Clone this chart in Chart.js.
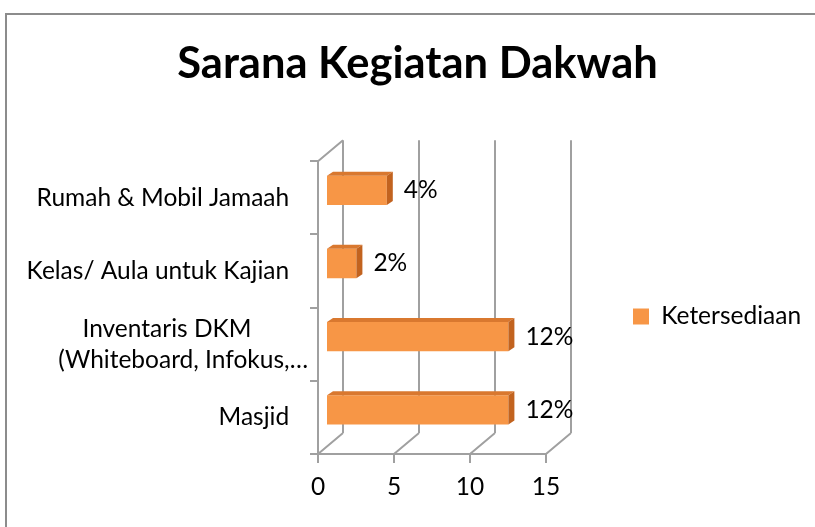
<!DOCTYPE html>
<html><head><meta charset="utf-8">
<script src="https://cdn.jsdelivr.net/npm/chart.js@4.4.1/dist/chart.umd.min.js"></script>
<style>html,body{margin:0;padding:0;background:#fff;}canvas{display:block;}</style>
</head><body>
<canvas id="c" width="815" height="527"></canvas>
<script>
const titleText = 'Sarana Kegiatan Dakwah';
const seriesName = 'Ketersediaan';
const categories = ['Masjid', ['Inventaris DKM', '(Whiteboard, Infokus,…'], 'Kelas/ Aula untuk Kajian', 'Rumah & Mobil Jamaah'];
const values = [12, 12, 2, 4];
const valueLabels = ['12%', '12%', '2%', '4%'];
const xTicks = [0, 5, 10, 15];

const FONT = 'Lato';
const GRID = '#a0a0a0';
const DX = 25, DY = -21;     // wall depth
const BX = 8, BY = -7.5;     // bar offset into depth
const BDX = 6, BDY = -4;     // bar thickness in depth
const LABEL_SIZE = 24.5;

const mctx = document.createElement('canvas').getContext('2d');
function textW(t, size) { mctx.font = size + 'px ' + FONT; return mctx.measureText(t).width; }
function padRight(t, px, size) {
  const sw = textW(' ', size) || 5;
  return t + ' '.repeat(Math.max(0, Math.round(px / sw)));
}

const threeD = {
  id: 'threeD',
  beforeLayout(chart) {
    const lg = chart.legend;
    if (lg && !lg._patched) {
      const f = lg.fit;
      lg.fit = function () { f.call(this); this.width = 269; };
      lg._patched = true;
    }
  },
  afterLayout(chart) {
    const lg = chart.legend;
    lg.left += 77; lg.right += 77; lg.top += 53; lg.bottom += 53;
  },
  beforeDraw(chart) {
    const c = chart.ctx;
    c.save();
    c.strokeStyle = '#8c8c8c'; c.lineWidth = 2;
    c.beginPath(); c.moveTo(6, 527); c.lineTo(6, 14); c.lineTo(815, 14); c.stroke();
    c.restore();
  },
  beforeDatasetsDraw(chart) {
    const c = chart.ctx, a = chart.chartArea, xs = chart.scales.x;
    c.save();
    c.strokeStyle = GRID; c.lineWidth = 2;
    c.beginPath();
    xs.ticks.forEach(t => {
      const px = Math.round(xs.getPixelForValue(t.value));
      c.moveTo(px + DX, a.top + DY); c.lineTo(px + DX, a.bottom + DY);
      c.moveTo(px, a.bottom); c.lineTo(px + DX, a.bottom + DY);
    });
    c.moveTo(a.left, a.top); c.lineTo(a.left + DX, a.top + DY);
    c.stroke();
    c.restore();
    c.save();
    c.translate(BX, BY);
  },
  afterDatasetsDraw(chart) {
    const c = chart.ctx;
    c.restore();
    const meta = chart.getDatasetMeta(0);
    meta.data.forEach((bar, i) => {
      const p = bar.getProps(['x', 'y', 'base', 'height'], true);
      const x0 = p.base + BX, x1 = p.x + BX;
      const yT = p.y - p.height / 2 + BY, yB = p.y + p.height / 2 + BY;
      // top face
      c.fillStyle = '#d9782f';
      c.beginPath();
      c.moveTo(x0, yT); c.lineTo(x1, yT); c.lineTo(x1 + BDX, yT + BDY); c.lineTo(x0 + BDX, yT + BDY); c.closePath(); c.fill();
      // side face
      c.fillStyle = '#c2631f';
      c.beginPath();
      c.moveTo(x1, yT); c.lineTo(x1 + BDX, yT + BDY); c.lineTo(x1 + BDX, yB + BDY); c.lineTo(x1, yB); c.closePath(); c.fill();
      // value label
      c.fillStyle = '#000';
      c.font = LABEL_SIZE + 'px ' + FONT;
      c.textAlign = 'left'; c.textBaseline = 'middle';
      c.fillText(valueLabels[i], x1 + 17, p.y + BY);
    });
  }
};

new Chart(document.getElementById('c'), {
  type: 'bar',
  data: {
    labels: categories,
    datasets: [{
      label: seriesName,
      data: values,
      backgroundColor: '#f79646',
      borderWidth: 0,
      categoryPercentage: 0.8,
      barPercentage: 0.5
    }]
  },
  options: {
    indexAxis: 'y',
    responsive: false,
    animation: false,
    devicePixelRatio: 1,
    layout: { padding: { left: 20, right: 0, top: 0, bottom: 0 } },
    scales: {
      x: {
        min: 0, max: 15,
        afterBuildTicks: s => { s.ticks = xTicks.map(v => ({ value: v })); },
        ticks: { color: '#000', font: { family: FONT, size: LABEL_SIZE }, padding: 9 },
        grid: { drawOnChartArea: false, drawTicks: true, tickLength: 9, color: GRID, lineWidth: 2 },
        border: { display: true, color: GRID, width: 2 },
        afterFit: s => { s.height = 73; }
      },
      y: {
        reverse: true,
        ticks: {
          color: '#000',
          font: { family: FONT, size: LABEL_SIZE, lineHeight: 1.27 },
          padding: 2,
          callback: function (value) {
            const lbl = this.getLabelForValue(value);
            if (Array.isArray(lbl)) {
              const ws = lbl.map(l => textW(l, LABEL_SIZE));
              const m = Math.max(...ws);
              return lbl.map((l, k) => padRight(l, ws[k] < m ? (m - ws[k]) / 2 + 14 : 0, LABEL_SIZE));
            }
            return padRight(lbl, 17, LABEL_SIZE);
          }
        },
        grid: { offset: true, drawOnChartArea: false, drawTicks: true, tickLength: 8, color: GRID, lineWidth: 2 },
        border: { display: true, color: GRID, width: 2 },
        afterFit: s => { s.width = 298; }
      }
    },
    plugins: {
      title: {
        display: true, text: titleText, color: '#000',
        font: { family: FONT, size: 43.5, weight: 'bold' },
        padding: { top: 38, bottom: 71 }
      },
      legend: {
        position: 'right',
        labels: { color: '#000', font: { family: FONT, size: LABEL_SIZE }, boxWidth: 16, boxHeight: 16 }
      },
      tooltip: { enabled: false }
    }
  },
  plugins: [threeD]
});
</script>
</body></html>
